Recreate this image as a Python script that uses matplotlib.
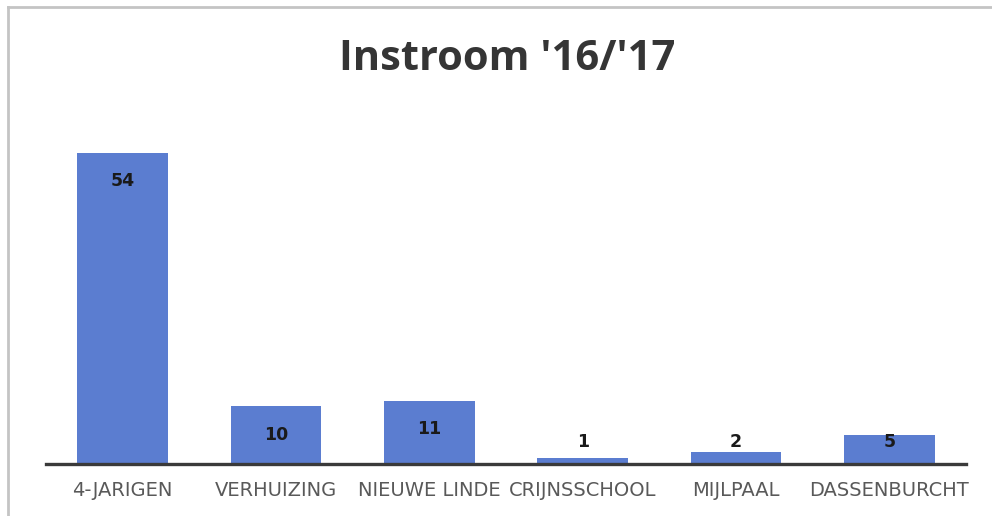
import matplotlib
matplotlib.use("Agg")
import matplotlib.pyplot as plt

categories = ["4-JARIGEN", "VERHUIZING", "NIEUWE LINDE", "CRIJNSSCHOOL", "MIJLPAAL", "DASSENBURCHT"]
values = [54, 10, 11, 1, 2, 5]
title = "Instroom '16/'17"

W, H = 992, 516
fig = plt.figure(figsize=(W / 100, H / 100), dpi=100)
fig.patch.set_facecolor("white")

# outer border (top and left visible)
fig.add_artist(plt.Line2D([7.5 / W, 7.5 / W], [0, 1 - 7 / H], transform=fig.transFigure,
                          color="#c4c4c4", lw=2))
fig.add_artist(plt.Line2D([7.5 / W, 1], [1 - 7 / H, 1 - 7 / H], transform=fig.transFigure,
                          color="#c4c4c4", lw=2))

ymax = 60
px_per_unit = (464 - 153) / 54
ax_h = ymax * px_per_unit
left, right, bottom = 46, 966, H - 464
ax = fig.add_axes([left / W, bottom / H, (right - left) / W, ax_h / H])

x = list(range(len(categories)))
ax.bar(x, values, width=0.59, color="#5B7DD0", zorder=2)
ax.set_xlim(-0.5, len(categories) - 0.5)
ax.set_ylim(0, ymax)

inside_off = 28.5 / px_per_unit   # label centre below bar top
min_pos = 22 / px_per_unit        # lowest label centre above the axis
for xi, v in zip(x, values):
    yl = max(v - inside_off, min_pos)
    ax.text(xi, yl, str(v), ha="center", va="center", fontsize=12.5,
            fontweight="bold", color="#1a1a1a", family="DejaVu Sans", zorder=3)

for s in ["top", "right", "left"]:
    ax.spines[s].set_visible(False)
ax.spines["bottom"].set_color("#3a3a3a")
ax.spines["bottom"].set_linewidth(2.4)
ax.set_yticks([])
ax.set_xticks(x)
ax.set_xticklabels(categories, fontsize=14, color="#595959", family="DejaVu Sans")
ax.tick_params(axis="x", length=0, pad=12.5)
ax.set_facecolor("none")

fig.text(507 / W, 1 - 60 / H, title, ha="center", va="center", fontsize=30,
         fontweight="bold", color="#353535", family="Open Sans")

fig.savefig("out.png", dpi=100)
